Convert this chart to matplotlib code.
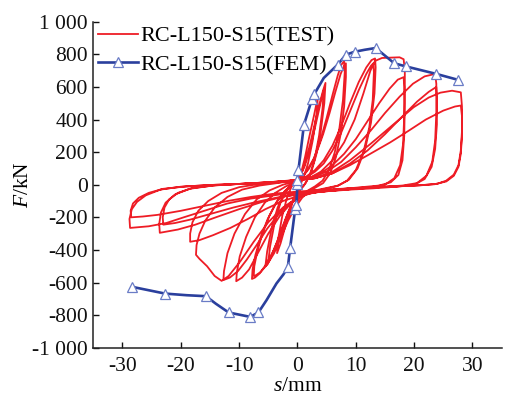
import matplotlib
matplotlib.use("Agg")
import matplotlib.pyplot as plt
from matplotlib.ticker import FixedLocator, FuncFormatter

plt.rcParams['font.family'] = ['Liberation Serif', 'DejaVu Serif']
plt.rcParams['mathtext.fontset'] = 'custom'
plt.rcParams['mathtext.rm'] = 'Liberation Serif'
plt.rcParams['mathtext.it'] = 'Liberation Serif:italic'

# ---------------- data ----------------
series_labels = ["RC-L150-S15(TEST)", "RC-L150-S15(FEM)"]
x_ticks = [-30, -20, -10, 0, 10, 20, 30]
y_ticks = [-1000, -800, -600, -400, -200, 0, 200, 400, 600, 800, 1000]

# FEM skeleton curve (all vertices) and which vertices carry a marker
fem_s = [-28.3, -22.7, -19.0, -15.7, -14.0, -11.8, -8.1, -6.7, -5.3, -3.6, -2.4, -1.65, -1.25,
         -0.4, -0.2, 0.0, 0.0, 0.17, 1.1, 2.5, 2.9, 4.5, 6.9, 8.3, 9.8, 11.5, 13.4, 16.6,
         18.6, 23.8, 27.6]
fem_F = [-627, -668, -678, -684, -730, -784, -811, -784, -708, -606, -550, -505, -386,
         -150, -127, 6, 26, 90, 367, 527, 557, 655, 737, 798, 816, 828, 839, 745,
         726, 680, 643]
fem_marked = [1, 1, 0, 1, 0, 1, 1, 1, 0, 0, 0, 1, 1,
              1, 1, 1, 1, 1, 1, 1, 1, 0, 1, 1, 1, 0, 1, 1,
              1, 1, 1]

# TEST hysteresis, cycle by cycle
cyc1_s = [0, 0.6, 1.3, 2.0, 2.8, 3.5, 3.3, 2.6, 1.8, 1.0, 0.2, -0.6, -1.4, -2.2, -2.9, -3.5,
          -3.3, -2.6, -1.8, -1.0, -0.3]
cyc1_F = [0, 70, 170, 290, 420, 540, 440, 270, 130, 40, -20, -80, -170, -270, -360, -420,
          -330, -190, -80, -10, 20]

cyc2_s = [0.3, 1.2, 2.1, 3.0, 3.8, 4.4, 4.8, 4.6, 4.0, 3.2, 2.3, 1.4, 0.5, -0.5, -1.5, -2.6,
          -3.6, -4.5, -5.1, -5.5, -5.2, -4.4, -3.4, -2.4, -1.4, -0.5]
cyc2_F = [40, 120, 240, 380, 500, 580, 625, 500, 330, 180, 70, 10, -30, -80, -160, -260,
          -360, -440, -485, -500, -410, -260, -140, -60, -10, 25]

cyc3_s = [0.4, 1.3, 2.2, 3.0, 3.7, 4.2, 4.5, 4.3, 3.7, 2.9, 2.0, 1.1, 0.2, -0.8, -1.8, -2.8,
          -3.7, -4.5, -5.0, -4.7, -3.9, -2.9, -1.9, -0.9, 0.0]
cyc3_F = [45, 120, 230, 350, 460, 540, 580, 470, 300, 150, 50, -5, -40, -100, -190, -290,
          -380, -440, -470, -380, -230, -110, -40, 0, 30]

cyc4_s = [0.3, 1.5, 2.8, 4.0, 5.0, 6.0, 6.9, 7.5, 8.0, 8.1, 7.8, 7.2, 6.4, 5.4, 4.3, 3.0,
          1.8, 0.6, -0.6, -1.8, -3.0, -4.2, -5.4, -6.5, -7.3, -7.8,
          -7.7, -7.2, -6.3, -5.1, -3.8, -2.5, -1.2, 0.0]
cyc4_F = [35, 80, 160, 280, 410, 550, 670, 735, 760, 690, 520, 350, 200, 90, 25, -10,
          -35, -70, -130, -210, -310, -410, -490, -545, -570, -578,
          -520, -430, -320, -210, -120, -55, -10, 25]

cyc5_s = [0.8, 2.0, 3.2, 4.4, 5.5, 6.5, 7.4, 8.0, 8.3, 8.3, 8.0, 7.4, 6.6, 5.6, 4.4, 3.2,
          2.0, 0.8, -0.4, -1.6, -2.8, -4.0, -5.2, -6.3, -7.1, -7.5,
          -7.4, -6.9, -6.0, -4.8, -3.5, -2.2, -1.0, 0.2]
cyc5_F = [45, 100, 190, 310, 440, 570, 680, 730, 745, 660, 480, 310, 170, 70, 10, -15,
          -40, -80, -140, -220, -320, -420, -490, -535, -555, -560,
          -500, -410, -300, -190, -100, -40, 0, 30]

cyc6_s = [1.5, 3.0, 4.5, 6.0, 7.5, 9.0, 10.5, 11.8, 12.7, 13.3,
          13.4, 13.2, 12.6, 11.6, 10.3, 8.8, 7.0, 5.0,
          3.0, 1.0, -1.0, -3.0, -5.0, -6.8, -8.3, -9.5, -10.5,
          -10.4, -9.9, -8.8, -7.3, -5.6, -3.8, -2.0, 0.0]
cyc6_F = [50, 90, 150, 240, 360, 500, 630, 720, 765, 775,
          720, 560, 380, 220, 100, 30, -5, -20,
          -35, -60, -110, -190, -300, -420, -520, -570, -592,
          -540, -440, -320, -200, -110, -50, -10, 20]

cyc7_s = [1.5, 3.0, 4.5, 6.0, 7.5, 9.0, 10.5, 11.8, 12.6, 13.0,
          13.1, 12.9, 12.3, 11.3, 10.0, 8.5, 6.8, 4.8,
          2.8, 0.8, -1.2, -3.2, -5.2, -7.0, -8.7, -10.2, -11.6, -12.7,
          -12.6, -12.0, -10.8, -9.0, -7.0, -4.8, -2.5, 0.0]
cyc7_F = [45, 80, 130, 210, 320, 450, 580, 680, 730, 745,
          690, 520, 350, 200, 90, 25, -8, -25,
          -40, -65, -110, -180, -270, -370, -460, -530, -570, -585,
          -530, -420, -300, -180, -90, -35, 0, 25]

cyc8_s = [2.0, 4.0, 6.0, 8.0, 9.8, 11.3, 12.5, 13.3, 14.5, 16.0, 17.5, 18.2,
          18.4, 18.4, 18.3, 18.0, 17.3, 16.0, 14.0, 11.0, 8.0, 5.0,
          2.5, 0.0, -2.5, -5.0, -7.5, -9.8, -11.8, -13.0, -14.2, -15.5, -16.8, -17.4,
          -17.3, -16.8, -15.8, -14.2, -12.0, -9.5, -6.5, -3.5, 0.0]
cyc8_F = [40, 80, 150, 260, 400, 560, 700, 760, 778, 780, 782, 770,
          700, 500, 300, 150, 60, 15, -5, -15, -25, -35,
          -50, -80, -140, -230, -350, -470, -560, -590, -560, -500, -455, -430,
          -370, -300, -220, -140, -75, -30, -5, 10, 30]

cyc9_s = [2.0, 4.0, 6.0, 8.0, 10.0, 12.0, 14.0, 15.8, 17.2, 18.2,
          18.3, 18.3, 18.1, 17.6, 16.6, 15.0, 12.5, 9.5, 6.5,
          3.5, 0.5, -2.5, -5.5, -8.5, -11.5, -14.5, -16.8, -18.4,
          -18.4, -18.0, -17.0, -15.3, -13.0, -10.0, -6.5, -3.0, 0.0]
cyc9_F = [40, 70, 120, 190, 280, 390, 500, 590, 645, 660,
          600, 420, 250, 120, 40, 0, -15, -25, -35,
          -45, -65, -100, -150, -210, -265, -310, -340, -350,
          -300, -230, -160, -100, -50, -15, 5, 15, 30]

cyc10_s = [2.5, 5.0, 7.5, 10.0, 12.5, 15.0, 17.5, 19.8, 21.8, 23.6,
           23.8, 23.8, 23.6, 23.1, 22.1, 20.5, 18.0, 14.0, 10.0, 6.0,
           2.0, -2.0, -6.0, -10.0, -14.0, -17.5, -20.5, -23.6,
           -23.7, -23.4, -22.6, -21.0, -18.5, -14.5, -10.0, -5.0, 0.0]
cyc10_F = [45, 80, 140, 230, 330, 440, 540, 620, 665, 680,
           620, 440, 270, 140, 55, 10, -5, -15, -25, -35,
           -50, -70, -105, -150, -200, -245, -275, -295,
           -240, -170, -110, -60, -25, -5, 5, 15, 30]

cyc11_s = [3.0, 6.0, 9.0, 12.0, 15.0, 18.0, 20.5, 22.5, 23.8,
           23.9, 23.9, 23.6, 23.0, 21.8, 20.0, 17.0, 13.0, 9.0, 5.0,
           1.0, -3.0, -7.0, -11.0, -15.0, -18.5, -21.0, -23.0,
           -23.1, -22.8, -22.0, -20.5, -18.0, -14.0, -9.0, -4.5, 0.0]
cyc11_F = [40, 70, 130, 210, 310, 420, 510, 570, 600,
           540, 370, 220, 110, 35, 0, -12, -22, -30, -40,
           -55, -75, -105, -140, -180, -215, -235, -245,
           -200, -140, -90, -50, -20, -3, 7, 15, 28]

cyc12_s = [3.0, 6.0, 9.0, 12.5, 15.9, 19.9, 22.5, 24.5, 26.5, 28.0,
           28.2, 28.2, 28.0, 27.6, 26.8, 25.5, 24.0, 21.0, 17.0, 12.0, 7.0, 2.0,
           -3.0, -8.0, -12.0, -16.0, -19.5, -22.5, -25.5, -28.7,
           -28.8, -28.4, -27.5, -26.0, -23.5, -20.0, -15.0, -10.0, -5.0, 0.0]
cyc12_F = [40, 80, 150, 250, 353, 475, 535, 565, 577, 567,
           480, 330, 210, 120, 62, 25, 6, -4, -10, -18, -28, -42,
           -60, -85, -115, -160, -200, -235, -255, -265,
           -210, -150, -105, -65, -30, -12, -2, 5, 15, 28]

cyc13_s = [3.0, 6.0, 9.0, 12.0, 15.9, 19.0, 22.0, 25.0, 27.0, 28.0,
           28.2, 28.2, 28.0, 27.6, 26.8, 25.5, 23.5, 20.0, 15.0, 10.0, 5.0, 0.0,
           -4.0, -8.0, -12.0, -16.0, -20.0, -24.0, -26.5, -28.5,
           -28.6, -28.2, -27.2, -25.5, -23.0, -19.0, -14.0, -9.0]
cyc13_F = [40, 70, 120, 180, 260, 330, 400, 455, 480, 486,
           420, 300, 190, 110, 55, 20, 3, -5, -12, -20, -30, -42,
           -55, -75, -100, -130, -160, -185, -195, -200,
           -160, -115, -80, -50, -25, -10, 0, 5]

test_cycles_s = [cyc1_s, cyc2_s, cyc3_s, cyc4_s, cyc5_s, cyc6_s, cyc7_s, cyc8_s, cyc9_s,
                 cyc10_s, cyc11_s, cyc12_s, cyc13_s]
test_cycles_F = [cyc1_F, cyc2_F, cyc3_F, cyc4_F, cyc5_F, cyc6_F, cyc7_F, cyc8_F, cyc9_F,
                 cyc10_F, cyc11_F, cyc12_F, cyc13_F]

# ---------------- plot ----------------
fig = plt.figure(figsize=(5.06, 3.96), dpi=100)
ax = fig.add_axes([0.1844, 0.122, 0.807, 0.823])

red = '#ee1c25'
blue = '#2a3f9d'

test_s = [v for c in test_cycles_s for v in c]
test_F = [v for c in test_cycles_F for v in c]
ax.plot(test_s, test_F, color=red, lw=1.3, solid_joinstyle='round', label=series_labels[0], zorder=2)

mark_idx = [i for i, m in enumerate(fem_marked) if m]
ax.plot(fem_s, fem_F, color=blue, lw=1.9, marker='^', markevery=mark_idx, markersize=7.5,
        markerfacecolor='white', markeredgecolor='#6a7cc6', markeredgewidth=0.9,
        label=series_labels[1], zorder=3)

ax.set_xlim(-35, 35)
ax.set_ylim(-1000, 1000)
ax.xaxis.set_major_locator(FixedLocator(x_ticks))
ax.yaxis.set_major_locator(FixedLocator(y_ticks))

def fmt(v, pos):
    return f"{int(round(v)):,}".replace(",", " ")

ax.xaxis.set_major_formatter(FuncFormatter(fmt))
ax.yaxis.set_major_formatter(FuncFormatter(fmt))

for side in ['top', 'right']:
    ax.spines[side].set_visible(False)
for side in ['left', 'bottom']:
    ax.spines[side].set_linewidth(1.1)
    ax.spines[side].set_color('#222222')
ax.tick_params(direction='in', length=4.5, width=1.0, labelsize=15.5, colors='#111111')
ax.tick_params(axis='x', pad=7)
ax.tick_params(axis='y', pad=4)

ax.set_xlabel(r'$s$/mm', fontsize=15.5, labelpad=0.5)
ax.set_ylabel(r'$F$/kN', fontsize=15.5, labelpad=-1)

leg = ax.legend(loc='upper left', bbox_to_anchor=(0.011, 0.986), frameon=False, fontsize=16,
                handlelength=1.8, handletextpad=0.12, labelspacing=0.35, borderaxespad=0.0,
                borderpad=0.0)

fig.savefig('out.png', dpi=100)
